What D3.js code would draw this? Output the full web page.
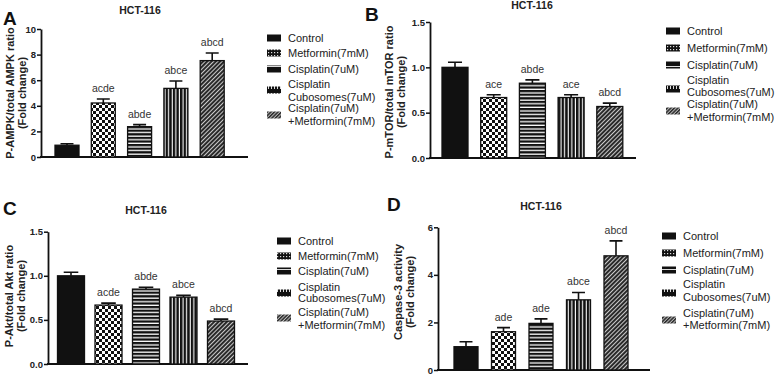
<!DOCTYPE html>
<html>
<head>
<meta charset="utf-8">
<script src="https://cdn.jsdelivr.net/npm/d3@7"></script>
<style>
  body { margin: 0; background: #fff; }
  svg { display: block; font-family: "Liberation Sans", Arial, sans-serif; }
  .tick text { font-size: 9.5px; font-weight: bold; fill: #222; }
  .tick line, .domain { stroke: #111; }
</style>
</head>
<body>
<svg id="chart" width="778" height="375"></svg>
<script>
const groups = ["Control", "Metformin(7mM)", "Cisplatin(7uM)", "Cisplatin Cubosomes(7uM)", "Cisplatin(7uM) +Metformin(7mM)"];
const legendLines = [["Control"], ["Metformin(7mM)"], ["Cisplatin(7uM)"], ["Cisplatin", "Cubosomes(7uM)"], ["Cisplatin(7uM)", "+Metformin(7mM)"]];
const fills = ["solid", "checker", "hstripe", "vstripe", "diag"];

const ampkMeans = [0.92, 4.22, 2.37, 5.36, 7.53];
const ampkErr = [0.12, 0.31, 0.16, 0.58, 0.6];
const ampkSig = ["", "acde", "abde", "abce", "abcd"];
const ampkTicks = [0, 2, 4, 6, 8, 10];

const mtorMeans = [1.0, 0.667, 0.825, 0.667, 0.568];
const mtorErr = [0.056, 0.03, 0.037, 0.03, 0.037];
const mtorSig = ["", "ace", "abde", "ace", "abcd"];
const mtorTicks = [0, 0.5, 1.0, 1.5];

const aktMeans = [1.0, 0.668, 0.849, 0.758, 0.487];
const aktErr = [0.04, 0.022, 0.022, 0.02, 0.022];
const aktSig = ["", "acde", "abde", "abce", "abcd"];
const aktTicks = [0, 0.5, 1.0, 1.5];

const caspMeans = [0.98, 1.61, 1.96, 2.95, 4.8];
const caspErr = [0.21, 0.17, 0.19, 0.31, 0.63];
const caspSig = ["", "ade", "ade", "abce", "abcd"];
const caspTicks = [0, 2, 4, 6];

const svg = d3.select("#chart");
const defs = svg.append("defs");

// bar patterns
let p = defs.append("pattern").attr("id", "checker").attr("patternUnits", "userSpaceOnUse")
    .attr("width", 6).attr("height", 6);
p.append("rect").attr("width", 6).attr("height", 6).attr("fill", "#fff");
p.append("rect").attr("width", 3).attr("height", 3).attr("fill", "#111");
p.append("rect").attr("x", 3).attr("y", 3).attr("width", 3).attr("height", 3).attr("fill", "#111");

p = defs.append("pattern").attr("id", "hstripe").attr("patternUnits", "userSpaceOnUse")
    .attr("width", 4).attr("height", 3.6);
p.append("rect").attr("width", 4).attr("height", 3.6).attr("fill", "#fff");
p.append("rect").attr("width", 4).attr("height", 2.3).attr("fill", "#111");

p = defs.append("pattern").attr("id", "vstripe").attr("patternUnits", "userSpaceOnUse")
    .attr("width", 3.6).attr("height", 4);
p.append("rect").attr("width", 3.6).attr("height", 4).attr("fill", "#fff");
p.append("rect").attr("width", 2.5).attr("height", 4).attr("fill", "#111");

p = defs.append("pattern").attr("id", "diag").attr("patternUnits", "userSpaceOnUse")
    .attr("width", 3).attr("height", 3).attr("patternTransform", "rotate(45)");
p.append("rect").attr("width", 3).attr("height", 3).attr("fill", "#ddd");
p.append("rect").attr("width", 2.1).attr("height", 3).attr("fill", "#2a2a2a");

// legend swatch patterns (small, mostly dark)
p = defs.append("pattern").attr("id", "lg-checker").attr("patternUnits", "userSpaceOnUse")
    .attr("width", 3).attr("height", 3);
p.append("rect").attr("width", 3).attr("height", 3).attr("fill", "#111");
p.append("rect").attr("x", 1).attr("y", 1).attr("width", 1.2).attr("height", 1.2).attr("fill", "#ddd");

p = defs.append("pattern").attr("id", "lg-hstripe").attr("patternUnits", "userSpaceOnUse")
    .attr("width", 14).attr("height", 7);
p.append("rect").attr("width", 14).attr("height", 7).attr("fill", "#111");
p.append("rect").attr("y", 3).attr("width", 14).attr("height", 1).attr("fill", "#ddd");

p = defs.append("pattern").attr("id", "lg-vstripe").attr("patternUnits", "userSpaceOnUse")
    .attr("width", 3).attr("height", 7);
p.append("rect").attr("width", 3).attr("height", 7).attr("fill", "#111");
p.append("rect").attr("x", 1).attr("y", 2).attr("width", 1).attr("height", 3).attr("fill", "#ddd");

p = defs.append("pattern").attr("id", "lg-diag").attr("patternUnits", "userSpaceOnUse")
    .attr("width", 2.5).attr("height", 2.5).attr("patternTransform", "rotate(45)");
p.append("rect").attr("width", 2.5).attr("height", 2.5).attr("fill", "#bbb");
p.append("rect").attr("width", 1.5).attr("height", 2.5).attr("fill", "#2a2a2a");

function fillFor(kind, legend) {
    if (kind == "solid") return "#111";
    return "url(#" + (legend ? "lg-" : "") + kind + ")";
}

function drawPanel(cfg) {
    const g = svg.append("g");

    // panel letter + title
    g.append("text").attr("x", cfg.letterX).attr("y", cfg.letterY)
        .attr("font-size", 19).attr("font-weight", "bold").attr("fill", "#111")
        .text(cfg.letter);
    g.append("text").attr("x", cfg.titleX).attr("y", cfg.titleY)
        .attr("text-anchor", "middle").attr("font-size", 10.5).attr("font-weight", "bold")
        .attr("fill", "#222").text("HCT-116");

    const y = d3.scaleLinear().domain([0, cfg.max]).range([cfg.y0, cfg.y1]);
    const step = cfg.step, w = cfg.barW;
    const pad = 1 - w / step;
    const x = d3.scaleBand().domain(groups)
        .range([cfg.c0 - step / 2, cfg.c0 - step / 2 + groups.length * step])
        .paddingInner(pad).paddingOuter(pad / 2);

    // y axis
    const yAxis = g.append("g").attr("transform", "translate(" + cfg.axisX + ",0)")
        .call(d3.axisLeft(y).tickValues(cfg.ticks).tickSize(4).tickSizeOuter(0)
            .tickFormat(cfg.fmt));
    yAxis.select(".domain").attr("stroke-width", 1.8);
    yAxis.selectAll(".tick line").attr("stroke-width", 1.5);
    yAxis.selectAll(".tick text").attr("x", -5);

    // x baseline
    g.append("line").attr("x1", cfg.axisX - 1).attr("x2", cfg.axisEnd)
        .attr("y1", y(0)).attr("y2", y(0)).attr("stroke", "#111").attr("stroke-width", 2);

    // y label
    const lbl = g.append("text").attr("transform", "translate(" + cfg.labelX + "," + cfg.labelY + ") rotate(-90)")
        .attr("text-anchor", "middle").attr("font-size", 11).attr("font-weight", "bold").attr("fill", "#222");
    lbl.append("tspan").attr("x", 0).attr("y", 0).text(cfg.label);
    lbl.append("tspan").attr("x", 0).attr("y", cfg.labelGap).text("(Fold change)");

    const rows = groups.map(function(d, i) {
        return {group: d, mean: cfg.means[i], err: cfg.errs[i], sig: cfg.sig[i], fill: fills[i]};
    });

    // error bars (upper only)
    g.selectAll(".err").data(rows).enter().append("path")
        .attr("class", "err")
        .attr("d", function(d) {
            const cx = x(d.group) + x.bandwidth() / 2;
            const top = y(d.mean + d.err);
            const cap = x.bandwidth() * 0.27;
            return "M" + cx + "," + y(d.mean) + "V" + top + "M" + (cx - cap) + "," + top + "H" + (cx + cap);
        })
        .attr("stroke", "#111").attr("stroke-width", 1.6).attr("fill", "none");

    g.selectAll(".bar").data(rows).enter().append("rect")
        .attr("class", "bar")
        .attr("x", function(d) { return x(d.group); })
        .attr("y", function(d) { return y(d.mean); })
        .attr("width", x.bandwidth())
        .attr("height", function(d) { return y(0) - y(d.mean); })
        .attr("fill", function(d) { return fillFor(d.fill, false); })
        .attr("stroke", "#111").attr("stroke-width", 1.3);

    g.selectAll(".sig").data(rows).enter().append("text")
        .attr("class", "sig")
        .attr("x", function(d) { return x(d.group) + x.bandwidth() / 2; })
        .attr("y", function(d) { return y(d.mean + d.err) - 7; })
        .attr("text-anchor", "middle").attr("font-size", 10.5).attr("fill", "#333")
        .text(function(d) { return d.sig; });

    // legend
    const lg = g.append("g");
    legendLines.forEach(function(lines, i) {
        const pos = cfg.legendY[i];
        lg.append("rect").attr("x", cfg.legendX).attr("y", pos.sw - 3.5)
            .attr("width", 14).attr("height", 7)
            .attr("fill", fillFor(fills[i], true));
        lines.forEach(function(t, j) {
            lg.append("text").attr("x", cfg.legendX + 21).attr("y", pos.lines[j] + 3.9)
                .attr("font-size", 11).attr("fill", "#222").text(t);
        });
    });
}

const fmt1 = d3.format(".1f");
const fmt0 = d3.format("d");

drawPanel({
    letter: "A", letterX: 3, letterY: 25, titleX: 140, titleY: 14,
    means: ampkMeans, errs: ampkErr, sig: ampkSig, ticks: ampkTicks, fmt: fmt0, max: 10,
    y0: 157, y1: 29, axisX: 41, axisEnd: 248, c0: 67, step: 36.3, barW: 24,
    label: "P-AMPK/total AMPK ratio", labelX: 14, labelY: 93, labelGap: 12,
    legendX: 267,
    legendY: [{sw: 38, lines: [38]}, {sw: 53, lines: [53]}, {sw: 69, lines: [69]},
              {sw: 90, lines: [84, 97]}, {sw: 115, lines: [108, 121]}]
});

drawPanel({
    letter: "B", letterX: 365, letterY: 21, titleX: 532, titleY: 9,
    means: mtorMeans, errs: mtorErr, sig: mtorSig, ticks: mtorTicks, fmt: fmt1, max: 1.5,
    y0: 158, y1: 22, axisX: 430, axisEnd: 636, c0: 455, step: 38.7, barW: 26,
    label: "P-mTOR/total mTOR ratio", labelX: 393, labelY: 92, labelGap: 12,
    legendX: 666,
    legendY: [{sw: 31, lines: [31]}, {sw: 48, lines: [48]}, {sw: 65, lines: [65]},
              {sw: 89, lines: [80, 92]}, {sw: 111, lines: [104, 117]}]
});

drawPanel({
    letter: "C", letterX: 3, letterY: 215, titleX: 146, titleY: 214,
    means: aktMeans, errs: aktErr, sig: aktSig, ticks: aktTicks, fmt: fmt1, max: 1.5,
    y0: 364, y1: 231.7, axisX: 48, axisEnd: 248, c0: 71, step: 37.5, barW: 27,
    label: "P-Akt/total Akt ratio", labelX: 13, labelY: 296, labelGap: 12,
    legendX: 277,
    legendY: [{sw: 241, lines: [241]}, {sw: 256, lines: [256]}, {sw: 271, lines: [271]},
              {sw: 293, lines: [287, 298]}, {sw: 318, lines: [312, 325]}]
});

drawPanel({
    letter: "D", letterX: 387, letterY: 211, titleX: 541, titleY: 210,
    means: caspMeans, errs: caspErr, sig: caspSig, ticks: caspTicks, fmt: fmt0, max: 6,
    y0: 370, y1: 227.3, axisX: 438, axisEnd: 650, c0: 466, step: 37.5, barW: 24,
    label: "Caspase-3 activity", labelX: 402, labelY: 292, labelGap: 12,
    legendX: 662,
    legendY: [{sw: 236, lines: [236]}, {sw: 253, lines: [253]}, {sw: 270, lines: [270]},
              {sw: 293, lines: [284, 297]}, {sw: 320, lines: [313, 325]}]
});
</script>
</body>
</html>
